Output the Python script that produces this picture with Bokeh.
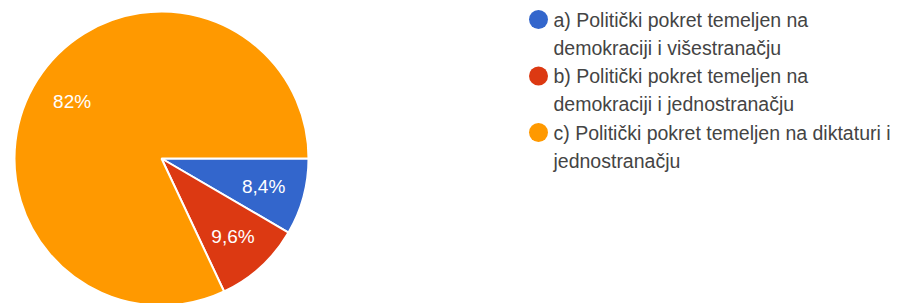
import math
from bokeh.plotting import figure
from bokeh.models import ColumnDataSource, Range1d
from bokeh.core.properties import value
from bokeh.embed import file_html
from bokeh.resources import INLINE

# ---- data ----
categories = [
    "a) Politički pokret temeljen na\ndemokraciji i višestranačju",
    "b) Politički pokret temeljen na\ndemokraciji i jednostranačju",
    "c) Politički pokret temeljen na diktaturi i\njednostranačju",
]
percent = [8.4, 9.6, 82.0]
labels = ["8,4%", "9,6%", "82%"]
colors = ["#3366cc", "#dc3912", "#ff9900"]

W, H = 905, 303
p = figure(width=W, height=H, output_backend="svg", toolbar_location=None,
           x_range=Range1d(0, W), y_range=Range1d(0, H), min_border=0)
p.axis.visible = False
p.grid.visible = False
p.outline_line_color = None
p.background_fill_color = "white"
p.border_fill_color = "white"

cx, cy, R = 161, 145, 147
total = sum(percent)
starts, ends, lx, ly = [], [], [], []
acc = 0.0
for v in percent:
    a0 = -2 * math.pi * acc / total
    a1 = -2 * math.pi * (acc + v) / total
    starts.append(a0)
    ends.append(a1)
    mid = (a0 + a1) / 2
    lx.append(cx + 0.72 * R * math.cos(mid))
    ly.append(cy + 0.72 * R * math.sin(mid))
    acc += v

src = ColumnDataSource(dict(start=starts, end=ends, color=colors, lx=lx, ly=ly, label=labels))
p.wedge(x=cx, y=cy, radius=R, start_angle="start", end_angle="end", direction="clock",
        fill_color="color", line_color="white", line_width=2, source=src)
p.text(x="lx", y="ly", text="label", source=src, text_color="white",
       text_font=value("Liberation Sans"), text_font_size="19px",
       text_align="center", text_baseline="middle")

# legend
lg_x, lg_y0, step, line_h = 538, 284, 56.5, 28
cxs, cys, tx, ty, tt = [], [], [], [], []
for i, (c, name) in enumerate(zip(colors, categories)):
    y = lg_y0 - i * step
    cxs.append(lg_x)
    cys.append(y)
    for j, line in enumerate(name.split("\n")):
        tx.append(lg_x + 15)
        ty.append(y - j * line_h)
        tt.append(line)
p.scatter(x=cxs, y=cys, size=19, marker="circle", color=colors, line_color=None)
p.text(x=tx, y=ty, text=tt, text_color="#444444", text_font=value("Liberation Sans"),
       text_font_size="19.5px", text_align="left", text_baseline="middle")

open("out.html", "w").write(file_html(p, INLINE))
